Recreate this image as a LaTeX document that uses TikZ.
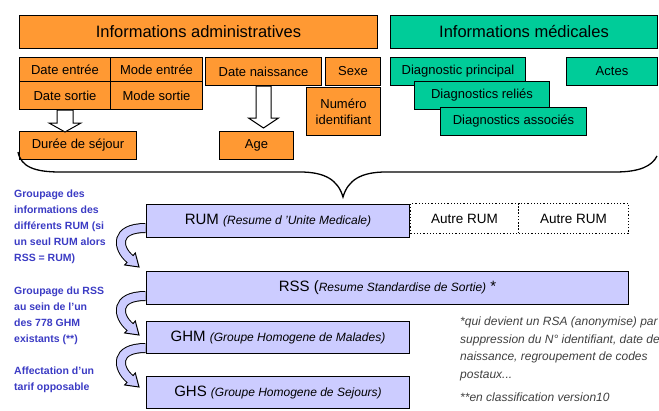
\documentclass[tikz,border=0pt]{standalone}
\usepackage{fontspec}
\setmainfont{Liberation Sans}
\usetikzlibrary{calc}
\definecolor{orng}{HTML}{FF9933}
\definecolor{grn}{HTML}{00CC99}
\definecolor{lav}{HTML}{CCCCFF}
\definecolor{grpblue}{HTML}{3B3BC4}
\definecolor{notegray}{HTML}{404040}
\tikzset{
  box/.style={draw, line width=1pt, anchor=north west, align=center, inner sep=0pt, fill=#1},
  box/.default=white,
  big/.style={font=\fontsize{16.5}{18}\selectfont},
  med/.style={font=\fontsize{13}{16}\selectfont},
  lbl/.style={font=\fontsize{15}{17}\selectfont},
  dbox/.style={draw, dotted, line width=1.2pt, anchor=north west, inner sep=0pt, font=\fontsize{13.5}{16}\selectfont},
  hollow/.style={draw, line width=1pt, fill=white},
  grp/.style={anchor=north west, inner sep=0pt, align=left, text=grpblue, font=\fontsize{10.5}{16}\bfseries},
  note/.style={anchor=north west, inner sep=0pt, align=left, text=notegray, font=\fontsize{12}{17.5}\itshape},
}
\newcommand{\sub}[1]{{\fontsize{12}{14}\itshape #1}}

\begin{document}
\begin{tikzpicture}[x=1pt, y=-1pt]
  \useasboundingbox (0,0) rectangle (659,410);
  % administrative part
  \node[box=orng, big, minimum width=358, minimum height=33] (admin) at (19,15) {Informations administratives};
  \node[box=orng, med, minimum width=91, minimum height=24] (dentree) at (19,57) {Date entrée};
  \node[box=orng, med, minimum width=92, minimum height=24] (mentree) at (110,57) {Mode entrée};
  \node[box=orng, med, minimum width=91, minimum height=28] (dsortie) at (19,81) {Date sortie};
  \node[box=orng, med, minimum width=92, minimum height=28] (msortie) at (110,81) {Mode sortie};
  \node[box=orng, med, minimum width=116, minimum height=28] (dnaiss) at (205,57) {Date naissance};
  \node[box=orng, med, minimum width=55, minimum height=28] (sexe) at (325,57) {Sexe};
  \node[box=orng, med, minimum width=74, minimum height=48] (numid) at (306,87) {Numéro\\identifiant};
  \node[box=orng, med, minimum width=117, minimum height=28] (duree) at (19,131) {Durée de séjour};
  \node[box=orng, med, minimum width=74, minimum height=28] (age) at (219,131) {Age};
  \draw[hollow] ($(dsortie.south)+(-8,0)$) -- ++(0,13) -- ++(-8,0) -- ($(dsortie.south)+(0,22)$)
    -- ($(dsortie.south)+(16,13)$) -- ++(-8,0) -- ($(dsortie.south)+(8,0)$) -- cycle;
  \draw[hollow] ($(dnaiss.south)+(-7.5,0)$) -- ++(0,32) -- ++(-7.5,0) -- ($(dnaiss.south)+(0,42)$)
    -- ($(dnaiss.south)+(15,32)$) -- ++(-7.5,0) -- ($(dnaiss.south)+(7.5,0)$) -- cycle;
  % medical part
  \node[box=grn, big, minimum width=267, minimum height=33] (medic) at (390,15) {Informations médicales};
  \node[box=grn, med, minimum width=135, minimum height=28] (dprinc) at (390,57) {Diagnostic principal};
  \node[box=grn, med, minimum width=91, minimum height=28] (actes) at (566,57) {Actes};
  \node[box=grn, med, minimum width=135, minimum height=28] (drelies) at (414,81) {Diagnostics reliés};
  \node[box=grn, med, minimum width=146, minimum height=28] (dassoc) at (440,107) {Diagnostics associés};
  % brace
  \draw[line width=1.3pt] (18,152) .. controls (21,167) and (35,172) .. (60,172) -- (300,172)
    .. controls (325,172) and (338,180) .. (343,197) .. controls (348,180) and (361,172) .. (386,172)
    -- (615,172) .. controls (640,172) and (652,166) .. (657,156);
  % groupage chain
  \node[box=lav, lbl, minimum width=263, minimum height=33] (rum) at (146,204) {RUM \sub{(Resume d 'Unite Medicale)}};
  \node[dbox, minimum width=108, minimum height=30] (autre1) at (410,203) {Autre RUM};
  \node[dbox, minimum width=110, minimum height=30] (autre2) at (518,203) {Autre RUM};
  \node[box=lav, lbl, minimum width=482, minimum height=33] (rss) at (146,271) {RSS (\sub{Resume Standardise de Sortie)} *};
  \node[box=lav, lbl, minimum width=263, minimum height=32] (ghm) at (146,321) {GHM \sub{(Groupe Homogene de Malades)}};
  \node[box=lav, lbl, minimum width=263, minimum height=32] (ghs) at (146,376) {GHS \sub{(Groupe Homogene de Sejours)}};
  \foreach \n/\dy in {rum/10, rss/9, ghm/6}{
    \coordinate (s) at ($(\n.south west)+(-0.5,-\dy)$);
    \coordinate (b) at ($(s)+(-15.5,31)$);
    \coordinate (t) at ($(s)+(-6.5,39)$);
    \draw[line width=10pt] (s) .. controls +(-31,0) and +(-13,-11) .. (b);
    \filldraw[fill=lav, line width=1pt] ($(b)!8pt!90:(t)$) -- (t) -- ($(b)!8pt!-90:(t)$) -- cycle;
    \draw[line width=8pt, lav] (s) .. controls +(-31,0) and +(-13,-11) .. (b) -- ($(b)!1.5pt!(t)$);
  }
  \node[grp] (grp1) at (14,190) {Groupage des\\informations des\\différents RUM (si\\un seul RUM alors\\RSS = RUM)};
  \node[grp] (grp2) at (14,287) {Groupage du RSS\\au sein de l'un\\des 778 GHM\\existants (**)};
  \node[grp] (grp3) at (14,367) {Affectation d'un\\tarif opposable};
  % notes
  \node[note] (fn1) at (460,317) {*qui devient un RSA (anonymise) par\\suppression du N° identifiant, date de\\naissance, regroupement de codes\\postaux...};
  \node[note] (fn2) at (460,393) {**en classification version10};
\end{tikzpicture}
\end{document}
